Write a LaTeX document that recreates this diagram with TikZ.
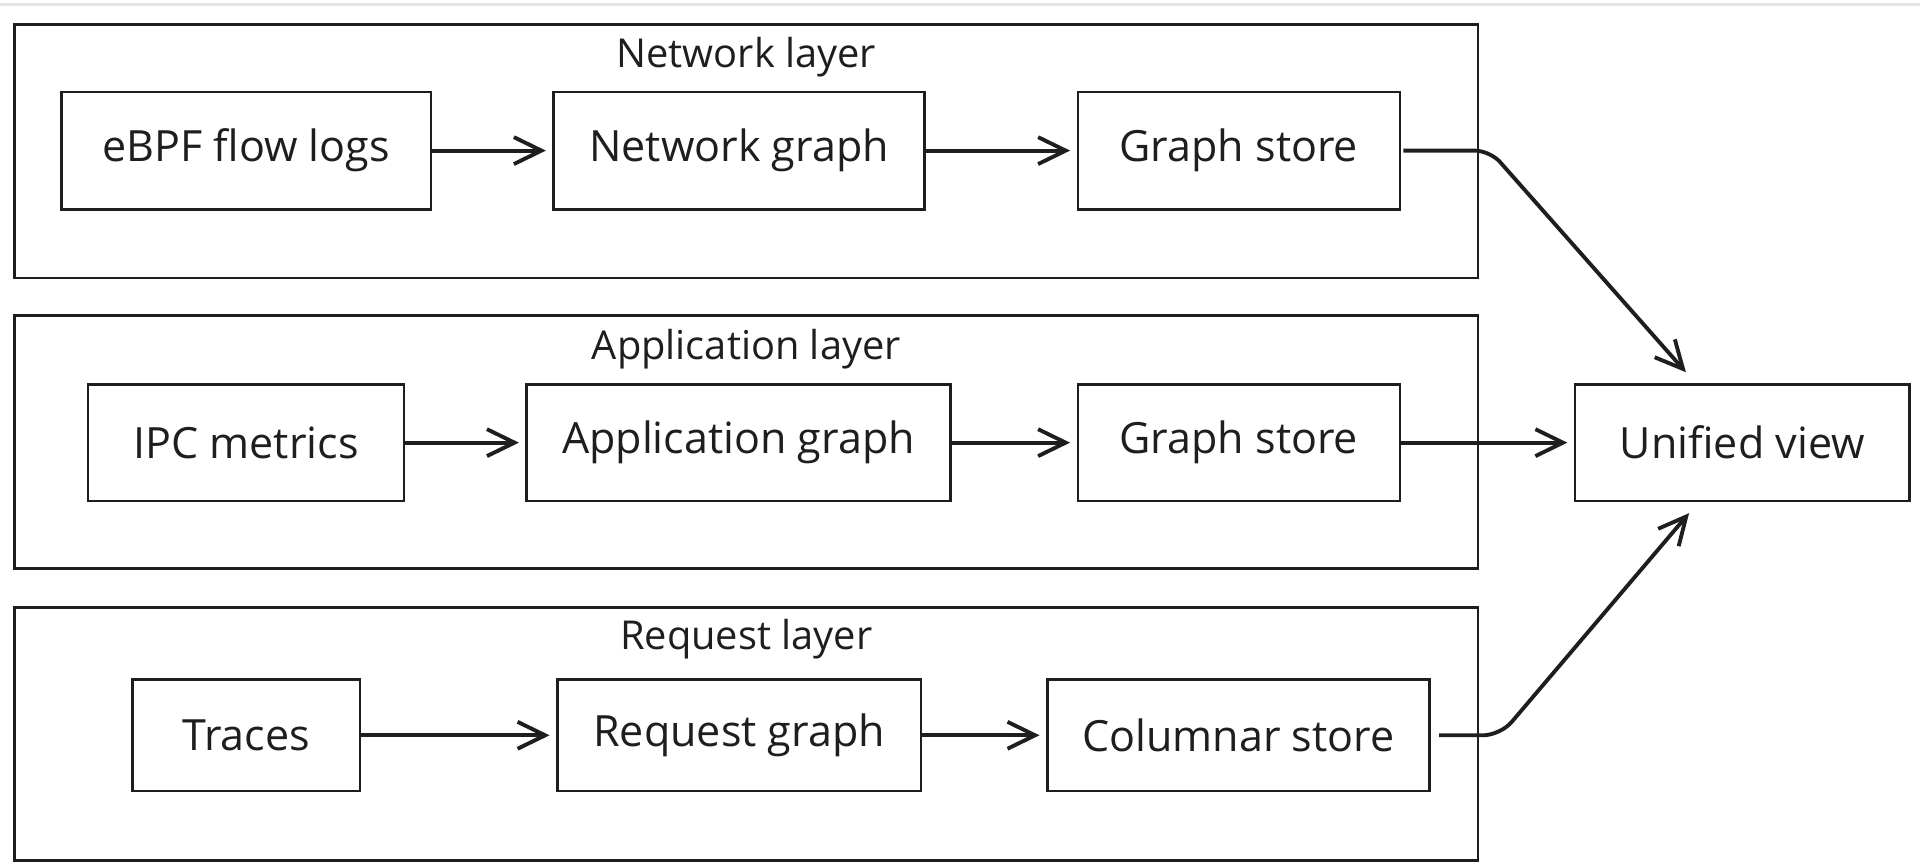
\documentclass[tikz,border=0pt]{standalone}
\usepackage{fontspec}
\setmainfont{Open Sans}
\usepackage{xcolor}
\usepackage{tikz}
\usetikzlibrary{arrows.meta,positioning}
\definecolor{ink}{HTML}{1E1E1E}
\definecolor{rule}{HTML}{E6E6E6}
\tikzset{
  box/.style={
    draw=ink, line width=1.2pt, fill=white,
    minimum width=5cm, minimum height=1.9cm, align=center,
    font=\fontsize{20}{24}\selectfont, text=ink
  },
  layer/.style={
    draw=ink, line width=1.3pt,
    minimum width=23.9cm, minimum height=4.14cm
  },
  layertitle/.style={font=\fontsize{18.5}{22}\selectfont, text=ink},
  arrow/.style={-{Straight Barb[length=4.5mm,width=4.4mm]}, line width=1.8pt, ink,
    shorten >=3pt},
}

\begin{document}
\begin{tikzpicture}
    \useasboundingbox (0,0) rectangle (31.36,14.14);
    \draw[rule, line width=1.2pt] (0,14.07) -- (31.36,14.07);

    % layers
    \node[layer] (netlayer) at (12.19,11.67) {};
    \node[layer] (applayer) at (12.19,6.92)  {};
    \node[layer] (reqlayer) at (12.19,2.15)  {};
    \node[layertitle] (nettitle) at ([yshift=-0.56cm]netlayer.north) {Network layer};
    \node[layertitle] (apptitle) at ([yshift=-0.58cm]applayer.north) {Application layer};
    \node[layertitle] (reqtitle) at ([yshift=-0.54cm]reqlayer.north) {Request layer};

    % network row
    \node[box, minimum width=6.04cm, minimum height=1.92cm] (ebpf) at (4.02,11.68) {eBPF flow logs};
    \node[box, minimum width=6.06cm, minimum height=1.92cm, right=1.96cm of ebpf] (netgraph) {Network graph};
    \node[box, minimum width=5.26cm, minimum height=1.92cm, right=2.46cm of netgraph] (netstore) {Graph store};

    % application row
    \node[box, minimum width=5.16cm] (ipc) at (4.02,6.91) {IPC metrics};
    \node[box, minimum width=6.92cm, right=1.96cm of ipc] (appgraph) {Application graph};
    \node[box, minimum width=5.26cm, right=2.04cm of appgraph] (appstore) {Graph store};
    \node[box, minimum width=5.46cm, right=2.82cm of appstore] (unified) {Unified view};

    % request row
    \node[box, minimum width=3.72cm, minimum height=1.82cm] (traces) at (4.02,2.13) {Traces};
    \node[box, minimum width=5.94cm, minimum height=1.82cm, right=3.18cm of traces] (reqgraph) {Request graph};
    \node[box, minimum width=6.24cm, minimum height=1.82cm, right=2.02cm of reqgraph] (colstore) {Columnar store};

    \coordinate (bendtop) at ([xshift=1.45cm]netstore.east);
    \coordinate (bendbot) at ([xshift=1.14cm]colstore.east);

    \draw[arrow] (ebpf) -- (netgraph);
    \draw[arrow] (netgraph) -- (netstore);
    \draw[arrow] (ipc) -- (appgraph);
    \draw[arrow] (appgraph) -- (appstore);
    \draw[arrow] (appstore) -- (unified);
    \draw[arrow] (traces) -- (reqgraph);
    \draw[arrow] (reqgraph) -- (colstore);
    \draw[arrow, rounded corners=7pt, shorten <=1pt] (netstore.east) -- (bendtop)
      -- ([xshift=-0.85cm,yshift=0.1cm]unified.north);
    \draw[arrow, rounded corners=8pt, shorten <=4pt] (colstore.east) -- (bendbot)
      -- ([xshift=-0.8cm,yshift=-0.1cm]unified.south);
  \end{tikzpicture}
\end{document}
